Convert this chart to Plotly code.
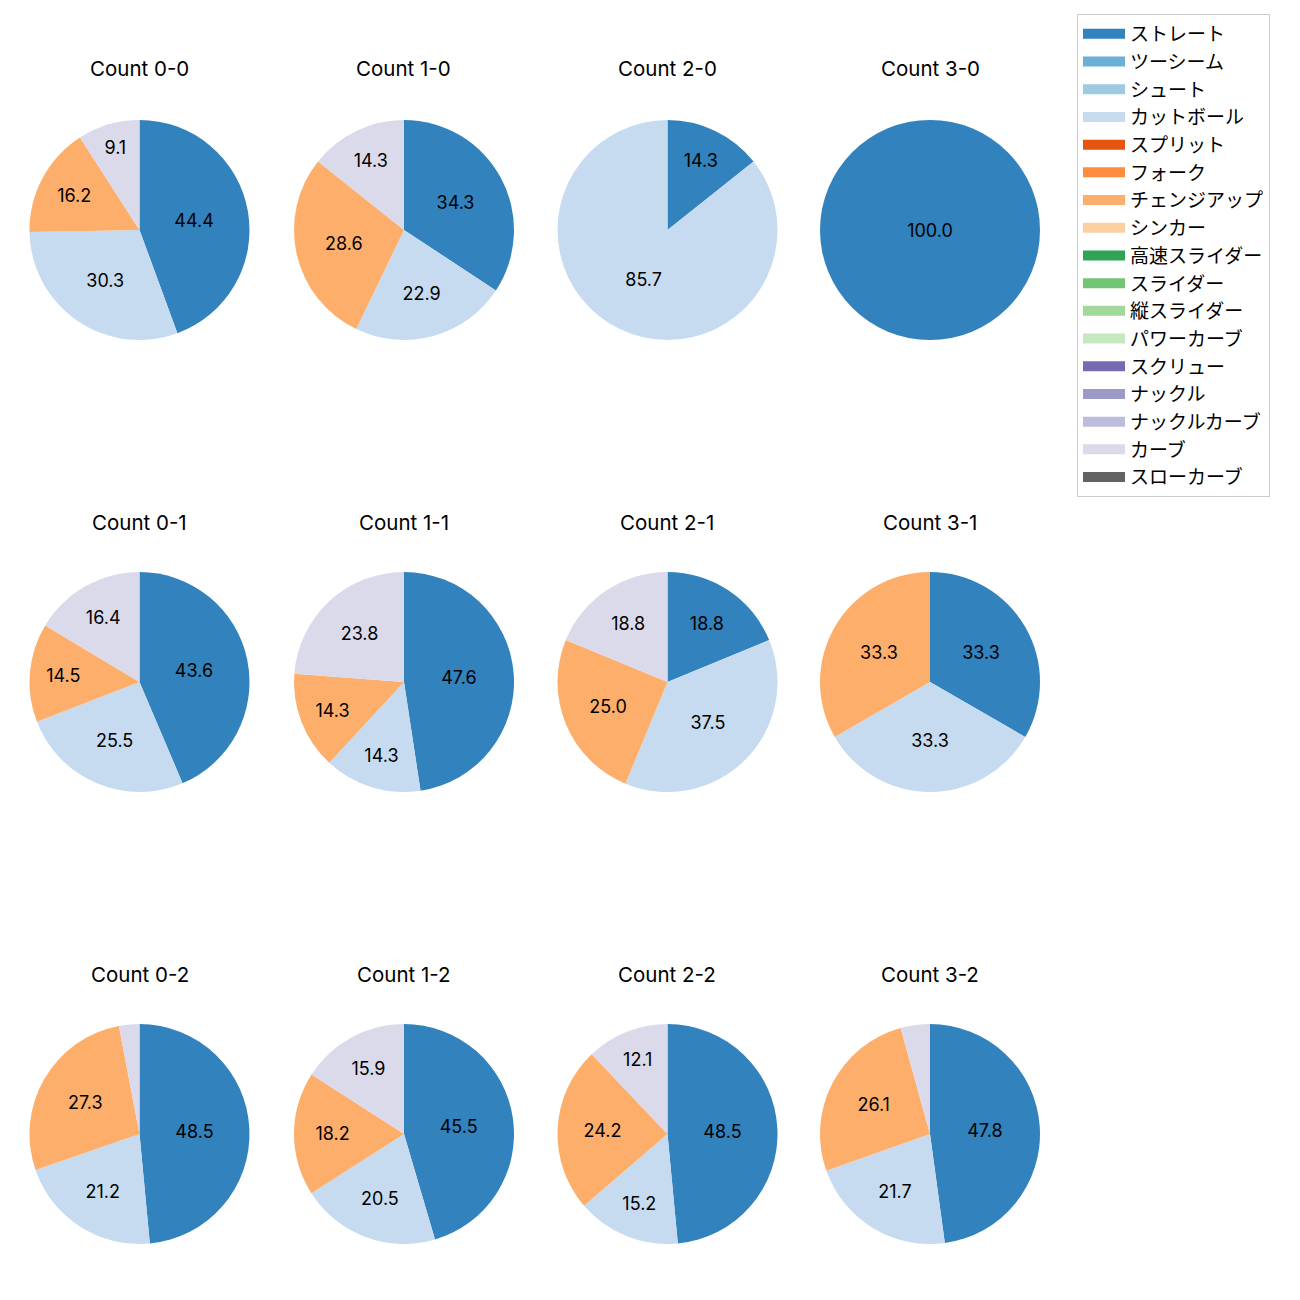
import plotly.graph_objects as go

pitch_names = ["ストレート", "ツーシーム", "シュート", "カットボール", "スプリット", "フォーク",
               "チェンジアップ", "シンカー", "高速スライダー", "スライダー", "縦スライダー",
               "パワーカーブ", "スクリュー", "ナックル", "ナックルカーブ", "カーブ", "スローカーブ"]
pitch_colors = ["#3182bd", "#6baed6", "#9ecae1", "#c6dbef", "#e6550d", "#fd8d3c",
                "#fdae6b", "#fdd0a2", "#31a354", "#74c476", "#a1d99b", "#c7e9c0",
                "#756bb1", "#9e9ac8", "#bcbddc", "#dadaeb", "#636363"]

count_titles = ["Count 0-0", "Count 1-0", "Count 2-0", "Count 3-0",
                "Count 0-1", "Count 1-1", "Count 2-1", "Count 3-1",
                "Count 0-2", "Count 1-2", "Count 2-2", "Count 3-2"]
count_labels = [
    ["ストレート", "カットボール", "チェンジアップ", "カーブ"],
    ["ストレート", "カットボール", "チェンジアップ", "カーブ"],
    ["ストレート", "カットボール"],
    ["ストレート"],
    ["ストレート", "カットボール", "チェンジアップ", "カーブ"],
    ["ストレート", "カットボール", "チェンジアップ", "カーブ"],
    ["ストレート", "カットボール", "チェンジアップ", "カーブ"],
    ["ストレート", "カットボール", "チェンジアップ"],
    ["ストレート", "カットボール", "チェンジアップ", "カーブ"],
    ["ストレート", "カットボール", "チェンジアップ", "カーブ"],
    ["ストレート", "カットボール", "チェンジアップ", "カーブ"],
    ["ストレート", "カットボール", "チェンジアップ", "カーブ"],
]
count_values = [
    [44.4, 30.3, 16.2, 9.1],
    [34.3, 22.9, 28.6, 14.3],
    [14.3, 85.7],
    [100.0],
    [43.6, 25.5, 14.5, 16.4],
    [47.6, 14.3, 14.3, 23.8],
    [18.8, 37.5, 25.0, 18.8],
    [33.3, 33.3, 33.3],
    [48.5, 21.2, 27.3, 3.0],
    [45.5, 20.5, 18.2, 15.9],
    [48.5, 15.2, 24.2, 12.1],
    [47.8, 21.7, 26.1, 4.3],
]

W = H = 1300
FONT = "Noto Sans CJK JP"
LATIN = "Inter, Noto Sans CJK JP"
col_centers = [139.5, 404, 667.5, 930]
row_centers = [230, 682, 1134]
title_y = [69, 522, 974]
R = 110

color_map = dict(zip(pitch_names, pitch_colors))
fig = go.Figure()

for i, (title, labs, vals) in enumerate(zip(count_titles, count_labels, count_values)):
    r, c = divmod(i, 4)
    cx, cy = col_centers[c], row_centers[r]
    texts = [f"{v:.1f}" if v >= 5 else "" for v in vals]
    fig.add_trace(go.Pie(
        labels=labs, values=vals, text=texts, textinfo="text",
        textposition="inside", insidetextorientation="horizontal",
        sort=False, direction="clockwise", rotation=0,
        marker=dict(colors=[color_map[l] for l in labs], line=dict(width=0)),
        textfont=dict(color="black", size=18, family=LATIN),
        domain=dict(x=[(cx - R) / W, (cx + R) / W], y=[1 - (cy + R) / H, 1 - (cy - R) / H]),
        showlegend=False, hoverinfo="label+percent",
    ))
    fig.add_annotation(text=title, x=cx / W, y=1 - title_y[r] / H, xref="paper", yref="paper",
                       showarrow=False, xanchor="center", yanchor="middle",
                       font=dict(size=20.5, family=LATIN, color="black"))

for name, col in zip(pitch_names, pitch_colors):
    fig.add_trace(go.Scatter(x=[None], y=[None], mode="lines", name=name,
                             line=dict(color=col, width=13), showlegend=True))

fig.update_layout(
    width=W, height=H, margin=dict(l=0, r=0, t=0, b=0),
    paper_bgcolor="white", plot_bgcolor="white",
    xaxis=dict(visible=False), yaxis=dict(visible=False),
    uniformtext=dict(minsize=18, mode="show"),
    font=dict(family=FONT),
    legend=dict(x=1077 / W, y=1 - 14 / H, xanchor="left", yanchor="top",
                bordercolor="#cccccc", borderwidth=1, bgcolor="white", itemwidth=42,
                font=dict(size=19, family=FONT, color="black"), tracegroupgap=0),
)
fig.write_html("out.html")
